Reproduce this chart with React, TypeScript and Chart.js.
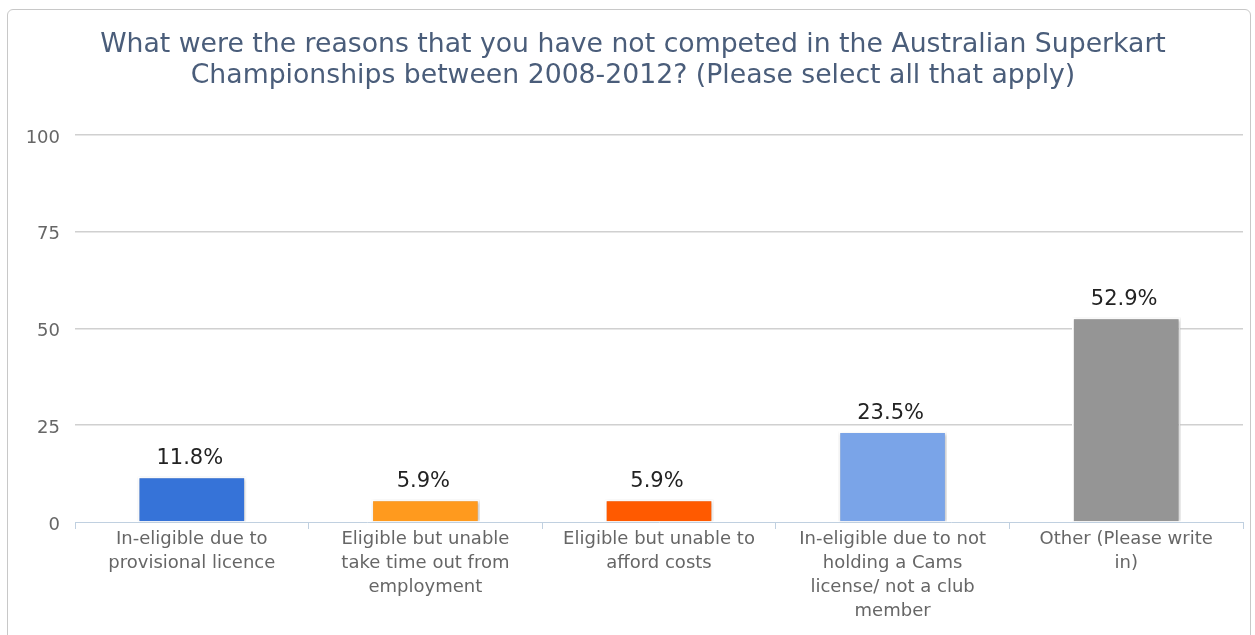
import React, { useEffect, useRef } from "react";
import { Chart, registerables } from "chart.js";

Chart.register(...registerables);

const categories: string[][] = [
  ["In-eligible due to", "provisional licence"],
  ["Eligible but unable", "take time out from", "employment"],
  ["Eligible but unable to", "afford costs"],
  ["In-eligible due to not", "holding a Cams", "license/ not a club", "member"],
  ["Other (Please write", "in)"],
];
const values: number[] = [11.8, 5.9, 5.9, 23.5, 52.9];
const barColors: string[] = ["#3673d8", "#ff9a1e", "#ff5a00", "#7aa4e8", "#959595"];
const yTicks: number[] = [0, 25, 50, 75, 100];
const titleLines: string[] = [
  "What were the reasons that you have not competed in the Australian Superkart",
  "Championships between 2008-2012? (Please select all that apply)",
];

const FONT = "'DejaVu Sans', sans-serif";

const shadowPlugin = {
  id: "barShadow",
  beforeDatasetsDraw(chart: any) {
    const ctx = chart.ctx;
    ctx.save();
    ctx.shadowColor = "rgba(0,0,0,0.28)";
    ctx.shadowBlur = 3;
    ctx.shadowOffsetX = 1;
    ctx.shadowOffsetY = 1;
  },
  afterDatasetsDraw(chart: any) {
    chart.ctx.restore();
  },
};

const labelPlugin = {
  id: "valueLabels",
  afterDraw(chart: any) {
    const ctx = chart.ctx;
    const meta = chart.getDatasetMeta(0);
    ctx.save();
    ctx.font = `21px ${FONT}`;
    ctx.fillStyle = "#222222";
    ctx.textAlign = "center";
    ctx.textBaseline = "middle";
    meta.data.forEach((bar: any, i: number) => {
      const v = chart.data.datasets[0].data[i];
      ctx.fillText(`${v.toFixed(1)}%`, bar.x - 2, bar.y - 18);
    });
    ctx.restore();
  },
};

export default function App() {
  const ref = useRef<HTMLCanvasElement | null>(null);

  useEffect(() => {
    if (!ref.current) return;
    const chart = new Chart(ref.current, {
      type: "bar",
      data: {
        labels: categories,
        datasets: [
          {
            data: values,
            backgroundColor: barColors,
            borderColor: "#ffffff",
            borderWidth: 2,
            barPercentage: 0.465,
            categoryPercentage: 1,
          },
        ],
      },
      options: {
        animation: false,
        responsive: false,
        maintainAspectRatio: false,
        layout: { padding: { left: 23, right: 12, top: 0, bottom: 0 } },
        plugins: {
          legend: { display: false },
          tooltip: { enabled: false },
          title: {
            display: true,
            text: titleLines,
            color: "#4a5d7a",
            font: { family: FONT, size: 26.7, weight: "normal", lineHeight: 1.17 },
            padding: { top: 29.5, bottom: 43 },
          },
        },
        scales: {
          x: {
            afterFit(scale: any) {
              scale.height = 113;
            },
            grid: {
              display: true,
              drawOnChartArea: false,
              drawTicks: true,
              tickLength: 7,
              color: "#c0d0e0",
              offset: true,
            },
            border: { display: true, color: "#c0d0e0", width: 1 },
            ticks: {
              color: "#666666",
              font: { family: FONT, size: 18, lineHeight: 1.333 },
              padding: -2,
              maxRotation: 0,
              autoSkip: false,
            },
          },
          y: {
            min: 0,
            max: 100,
            afterFit(scale: any) {
              scale.width = 52;
            },
            afterBuildTicks(scale: any) {
              scale.ticks = yTicks.map((v) => ({ value: v }));
            },
            grid: {
              drawTicks: false,
              color: (c: any) => (c.tick && c.tick.value === 0 ? "rgba(0,0,0,0)" : "#d0d0d0"),
              lineWidth: 1.5,
            },
            border: { display: false },
            ticks: {
              color: "#666666",
              font: { family: FONT, size: 18 },
              padding: 15,
              labelOffset: 3,
            },
          },
        },
      },
      plugins: [shadowPlugin, labelPlugin],
    });
    return () => chart.destroy();
  }, []);

  return (
    <div
      style={{
        position: "fixed",
        left: 0,
        top: 0,
        width: 1255,
        height: 635,
        overflow: "hidden",
        background: "#ffffff",
      }}
    >
      <div
        style={{
          position: "absolute",
          left: 7,
          top: 9,
          width: 1244,
          height: 700,
          border: "1px solid #c8c8c8",
          borderRadius: 6,
          boxSizing: "border-box",
        }}
      />
      <canvas
        ref={ref}
        width={1255}
        height={635}
        style={{ position: "absolute", left: 0, top: 0, width: 1255, height: 635 }}
      />
    </div>
  );
}
